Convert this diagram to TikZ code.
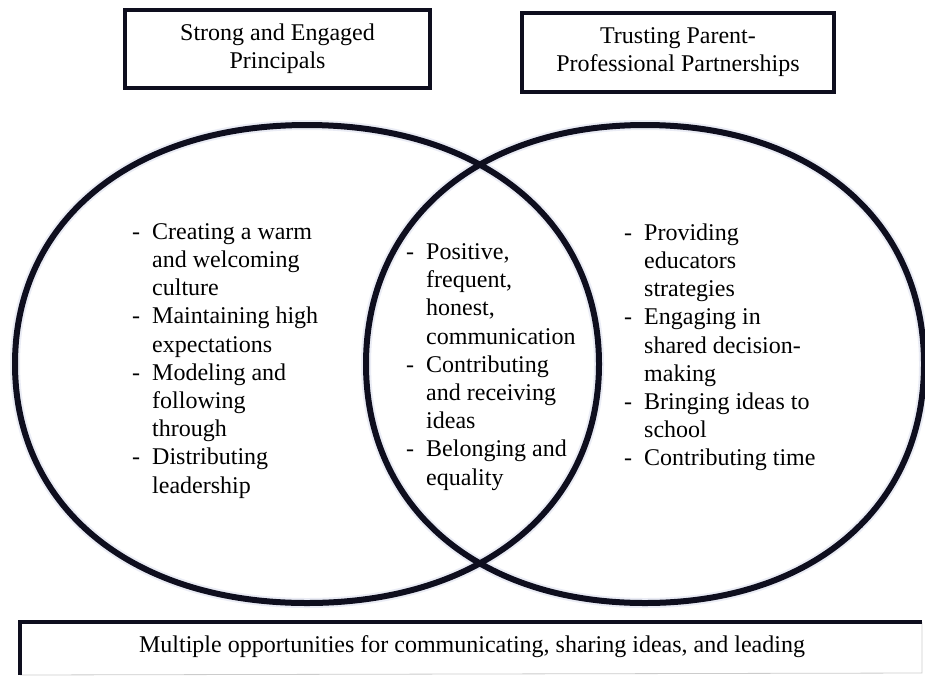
\documentclass[tikz,border=0pt]{standalone}
\usepackage{fontspec}
\setmainfont{Liberation Serif}
\definecolor{ink}{RGB}{14,14,30}
\definecolor{halo}{RGB}{150,160,205}
\tikzset{
  txt/.style={font=\fontsize{24}{28.2}\selectfont, inner sep=0pt, anchor=north west, align=left},
  titlebox/.style={draw=ink, line width=4pt, font=\fontsize{24}{28}\selectfont, align=center, inner sep=0pt},
  ring/.style={draw=ink, line width=6pt},
  ringhalo/.style={draw=halo, line width=10pt, opacity=0.2},
}
\newcommand{\dsh}{\makebox[20pt][l]{-}}
\newcommand{\ind}{\hspace*{20pt}}
\begin{document}
\begin{tikzpicture}[x=1pt,y=-1pt]
\clip (0,0) rectangle (925,675);
\fill[white] (0,0) rectangle (925,675);
% ellipses (slightly full)
\def\lring{(599,364) .. controls (599,220.6) and (482.2,125) .. (307,125) .. controls (131.8,125) and (15,220.6) .. (15,364) .. controls (15,507.4) and (131.8,603) .. (307,603) .. controls (482.2,603) and (599,507.4) .. (599,364) -- cycle}
\def\rring{(924,364) .. controls (924,220.6) and (812.4,125) .. (645,125) .. controls (477.6,125) and (366,220.6) .. (366,364) .. controls (366,507.4) and (477.6,603) .. (645,603) .. controls (812.4,603) and (924,507.4) .. (924,364) -- cycle}
\draw[ringhalo] \lring;
\draw[ringhalo] \rring;
\draw[ring] \lring;
\draw[ring] \rring;
% title boxes
\node[titlebox, minimum width=305pt, minimum height=78pt] (tl) at (277.5,49) {Strong and Engaged\\Principals};
\node[titlebox, minimum width=312pt, minimum height=79pt] (tr) at (678,52.5) {Trusting Parent-\\Professional Partnerships};
% lists
\node[txt] (left) at (132,219.4) {\begin{tabular}{@{}l@{}}
\dsh Creating a warm\\
\ind and welcoming\\
\ind culture\\
\dsh Maintaining high\\
\ind expectations\\
\dsh Modeling and\\
\ind following\\
\ind through\\
\dsh Distributing\\
\ind leadership
\end{tabular}};
\node[txt] (mid) at (406,239.5) {\begin{tabular}{@{}l@{}}
\dsh Positive,\\
\ind frequent,\\
\ind honest,\\
\ind communication\\
\dsh Contributing\\
\ind and receiving\\
\ind ideas\\
\dsh Belonging and\\
\ind equality
\end{tabular}};
\node[txt] (right) at (624,220.4) {\begin{tabular}{@{}l@{}}
\dsh Providing\\
\ind educators\\
\ind strategies\\
\dsh Engaging in\\
\ind shared decision-\\
\ind making\\
\dsh Bringing ideas to\\
\ind school\\
\dsh Contributing time
\end{tabular}};
% bottom box
\coordinate (bl) at (20,675);
\coordinate (tlc) at (20,622);
\coordinate (trc) at (922,622);
\coordinate (brc) at (922,673);
\draw[gray!40, line width=0.8pt] (trc) -- (brc) -- (bl -| tlc |- brc);
\draw[ink, line width=4pt] (bl) -- (tlc) -- (trc);
\node[font=\fontsize{24}{28}\selectfont, inner sep=0pt, anchor=base] (bottom) at (472,652) {Multiple opportunities for communicating, sharing ideas, and leading};
\end{tikzpicture}
\end{document}
